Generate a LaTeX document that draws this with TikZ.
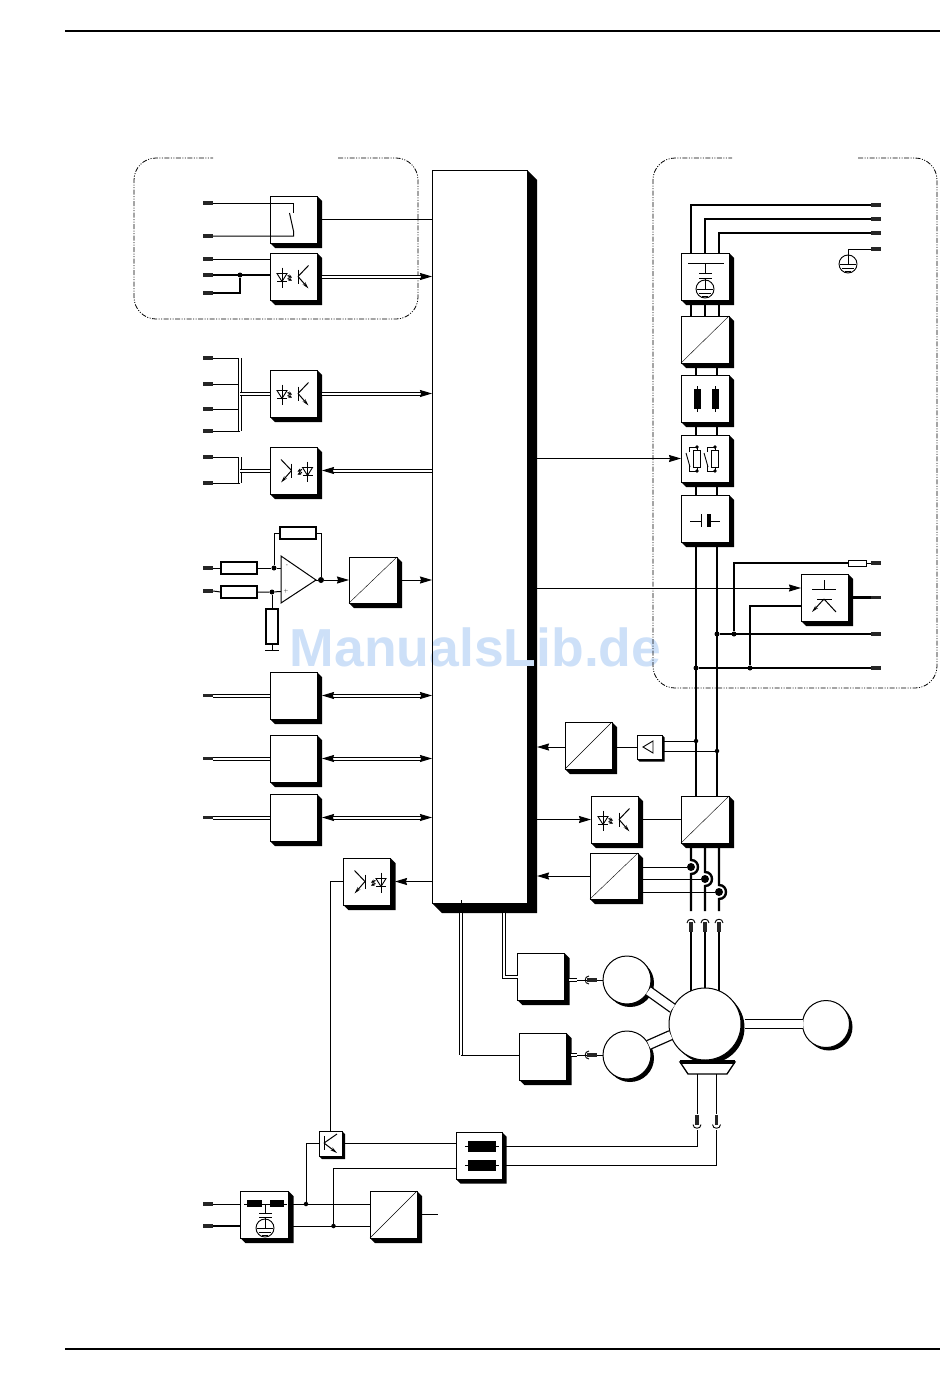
\documentclass[tikz,border=0pt]{standalone}
\usepackage{fontspec}
\newfontfamily\markfont{Liberation Sans}
\usetikzlibrary{arrows.meta}
\definecolor{markblue}{RGB}{205,224,248}
\tikzset{
  blockstyle/.style={draw,fill=white,line width=1pt,inner sep=0pt,outer sep=0pt},
  terminal/.style={fill=black!85,inner sep=0pt,minimum width=10pt,minimum height=3.2pt},
  resist/.style={draw,fill=white,line width=1.1pt,inner sep=0pt,minimum width=36pt,minimum height=12pt},
  dot/.style={circle,fill=black,inner sep=0pt,minimum size=5pt},
  bigdot/.style={circle,fill=black,inner sep=0pt,minimum size=8pt},
  earth/.style={circle,draw,fill=white,line width=.9pt,inner sep=0pt,minimum size=18pt},
  wire/.style={line width=1pt},
  power/.style={line width=2.4pt},
  bus/.style={double,line width=1pt,double distance=2pt},
  shaft/.style={double,line width=1.3pt,double distance=8pt},
  sig/.style={-{Stealth[inset=1pt,length=12pt,width=7pt]}},
  revsig/.style={{Stealth[inset=1pt,length=12pt,width=7pt]}-},
  bothsig/.style={{Stealth[inset=1pt,length=12pt,width=7pt]}-{Stealth[inset=1pt,length=12pt,width=7pt]}},
  frameline/.style={line width=.8pt,rounded corners=22pt,dash pattern=on 5pt off 1.5pt on 1pt off 1.5pt on 1pt off 1.5pt},
  pics/opto/.style={code={
    \draw [line width=.9pt] (-11.5,-9) -- (-11.5,11);
    \draw [line width=.9pt] (-16.5,-3) -- (-6.5,-3) -- (-11.5,5) -- cycle;
    \draw [line width=.9pt] (-16.5,5) -- (-6.5,5);
    \draw [-{Stealth[length=3.5pt,width=3.5pt]},line width=1.1pt] (-6,-1) -- (-1.5,1);
    \draw [-{Stealth[length=3.5pt,width=3.5pt]},line width=1.1pt] (-6,2) -- (-1.5,4);
    \draw [line width=1pt] (4.5,-7) -- (4.5,7);
    \draw [line width=1pt] (4.5,0) -- (15,-11);
    \draw [-{Stealth[length=7pt,width=3.5pt]},line width=1pt] (4.5,0) -- (15,12);
  }},
  pics/earthbars/.style={code={
    \draw [line width=.9pt] (0,-9) -- (0,0);
    \draw [line width=.9pt] (-8,0) -- (8,0);
    \draw [line width=.9pt] (-6,4) -- (6,4);
    \draw [line width=.9pt] (-3,7) -- (3,7);
  }},
  pics/socket/.style={code={
    \draw [line width=.9pt] (-4,3) .. controls (-4,-2) and (4,-2) .. (4,3);
  }},
  pics/relaycell/.style={code={
    \draw [line width=.9pt] (0,-12) -- (-8,-12) -- (-8,-7);
    \draw [line width=.9pt] (-11,-6) -- (-7,8);
    \draw [line width=.9pt] (-8,7) -- (-8,12) -- (0,12) -- (0,-12);
    \draw [line width=.9pt,fill=white] (-3.2,-9) rectangle (3.2,8);
    \fill (0,-12) circle [radius=1.8pt];
    \fill (0,12) circle [radius=1.8pt];
  }},
}
% name, left, top, width, height; the option is the depth of the shadow
\newcommand{\blockbox}[6][5]{%
  \fill (#3+#5,#4) -- (#3+#5+#1,#4+#1) -- (#3+#5+#1,#4+#6+#1) -- (#3+#1,#4+#6+#1) -- (#3,#4+#6) -- cycle;
  \node [blockstyle,anchor=north west,minimum width=#5pt,minimum height=#6pt] (#2) at (#3,#4) {};
}
% name, centre x, centre y, radius; the option is the shift of the shadow
\newcommand{\roundbox}[5][3]{%
  \fill (#3+#1,#4+#1) circle [radius=#5pt];
  \node [blockstyle,circle,minimum size=2*#5pt] (#2) at (#3,#4) {};
}
\begin{document}
\begin{tikzpicture}[x=1pt,y=-1pt]
\useasboundingbox (0,0) rectangle (950,1397);

% Central block
\blockbox[10]{main}{432}{170}{95}{733}
\node [anchor=base,text=markblue,inner sep=0pt] (watermark) at (475.5,666) {\markfont\fontsize{53.5}{53.5}\selectfont\bfseries ManualsLib.de};
\draw [line width=1pt] (main.south west) -- (main.north west);

% Page rules
\draw [line width=1.6pt] (65,31) -- (940,31);
\draw [line width=1.6pt] (65,1349) -- (940,1349);

% Dashed frames
\draw [frameline] (338,158) -- (418,158) -- (418,319) -- (134,319) -- (134,158) -- (213,158);
\draw [frameline] (858,158) -- (937,158) -- (937,688) -- (653,688) -- (653,158) -- (732,158);

% Left terminals
\node [terminal] (tsa) at (208,203) {};
\node [terminal] (tsb) at (208,236) {};
\node [terminal] (toa) at (208,259) {};
\node [terminal] (tob) at (208,275) {};
\node [terminal] (toc) at (208,293) {};
\node [terminal] (tba) at (208,358) {};
\node [terminal] (tbb) at (208,384) {};
\node [terminal] (tbc) at (208,409) {};
\node [terminal] (tbd) at (208,431) {};
\node [terminal] (tca) at (208,457) {};
\node [terminal] (tcb) at (208,483) {};
\node [terminal] (tna) at (208,568) {};
\node [terminal] (tnb) at (208,591) {};
\node [terminal] (tda) at (208,695.5) {};
\node [terminal] (tdb) at (208,758.5) {};
\node [terminal] (tdc) at (208,817.5) {};
\node [terminal] (tea) at (208,1204) {};
\node [terminal] (teb) at (208,1226) {};

% Right terminals
\node [terminal] (ua) at (876,205) {};
\node [terminal] (ub) at (876,219) {};
\node [terminal] (uc) at (876,233) {};
\node [terminal] (ud) at (876,249) {};
\node [terminal] (ue) at (876,563) {};
\node [terminal] (uf) at (876,597.5) {};
\node [terminal] (ug) at (876,634) {};
\node [terminal] (uh) at (876,668) {};

% Switch input
\blockbox{swbox}{270}{196}{47}{47}
\draw [wire] (tsa.east) -- (tsa.east -| swbox.center) -- ++(0,10);
\draw [wire] (tsb.east) -- (tsb.east -| swbox.center) -- ++(0,-5) -- ++(-4,-18);
\draw [wire] (swbox.east) -- (swbox.east -| main.west);

% Opto inputs
\blockbox{optoa}{270}{253}{47}{47}
\pic at (optoa.center) {opto};
\node [dot] (dja) at (240,275) {};
\draw [wire] (toa.east) -- (toa.east -| optoa.west);
\draw [power] (tob.east) -- (tob.east -| optoa.west);
\draw [power] (toc.east) -| (dja);
\draw [bus,sig,shorten <=5pt] (optoa.east) -- (optoa.east -| main.west);

\blockbox{optob}{270}{370}{47}{47}
\pic at (optob.center) {opto};
\coordinate (bbt) at (240,358);
\coordinate (bbb) at (240,431);
\coordinate (bbm) at (240,393.5);
\draw [wire] (tba.east) -- (bbt);
\draw [wire] (tbb.east) -- (tbb.east -| bbt);
\draw [wire] (tbc.east) -- (tbc.east -| bbt);
\draw [wire] (tbd.east) -- (bbb);
\draw [bus] (bbt) -- (bbb);
\draw [bus] (bbm) -- (optob.west);
\draw [bus,sig,shorten <=5pt] (optob.east) -- (optob.east -| main.west);

\blockbox{optoc}{270}{447}{47}{47}
\pic [xscale=-1] at ([xshift=2.5pt]optoc.center) {opto};
\coordinate (bct) at (240,457);
\coordinate (bcb) at (240,483);
\coordinate (bcm) at (240,470.5);
\draw [wire] (tca.east) -- (bct);
\draw [wire] (tcb.east) -- (bcb);
\draw [bus] (bct) -- (bcb);
\draw [bus] (bcm) -- (optoc.west);
\draw [bus,revsig,shorten <=5pt] (optoc.east) -- (optoc.east -| main.west);

% Analog input
\node [resist] (rna) at (239,568) {};
\node [resist] (rnb) at (239,592) {};
\node [resist] (rfb) at (298,533) {};
\node [resist,minimum width=12pt,minimum height=35pt] (rgn) at (272,626.5) {};
\coordinate (optop) at (281,556);
\coordinate (opbot) at (281,603);
\coordinate (opout) at (316,580);
\coordinate (opneg) at (281,568);
\coordinate (oppos) at (281,591.5);
\coordinate (gnda) at (272,650);
\node [dot] (dna) at (274,568) {};
\node [dot] (dnb) at (272,592) {};
\node [dot,minimum size=6pt] (dnc) at (321,580) {};
\draw [line width=1pt] (optop) -- (opbot) -- (opout) -- cycle;
\node [font=\tiny,inner sep=0pt] (opminus) at (287,566) {-};
\node [font=\tiny,inner sep=0pt] (opplus) at (286,591) {+};
\draw [wire] (tna.east) -- (rna.west);
\draw [wire] (tnb.east) -- (rnb.west);
\draw [wire] (rna.east) -- (dna) -- (opneg);
\draw [wire] (rnb.east) -- (dnb) -- (oppos);
\draw [wire] (dna) |- (rfb.west);
\draw [wire] (rfb.east) -| (dnc);
\draw [wire] (opout) -- (dnc);
\draw [wire] (dnb) -- (rgn.north);
\draw [wire] (rgn.south) -- (gnda);
\draw [wire] ([xshift=-7pt]gnda) -- ([xshift=7pt]gnda);
\blockbox{adca}{349}{557}{48}{46}
\draw (adca.south west) -- (adca.north east);
\draw [wire,sig] (dnc) -- (dnc -| adca.west);
\draw [wire,sig] (adca.east) -- (adca.east -| main.west);

% Serial blocks
\blockbox{biba}{270}{672}{47}{47}
\blockbox{bibb}{270}{735}{47}{47}
\blockbox{bibc}{270}{794}{47}{47}
\draw [bus] (tda.east) -- (biba.west);
\draw [bus] (tdb.east) -- (bibb.west);
\draw [bus] (tdc.east) -- (bibc.west);
\draw [bus,bothsig,shorten <=5pt] (biba.east) -- (biba.east -| main.west);
\draw [bus,bothsig,shorten <=5pt] (bibb.east) -- (bibb.east -| main.west);
\draw [bus,bothsig,shorten <=5pt] (bibc.east) -- (bibc.east -| main.west);

% Opto output
\blockbox{optod}{343.5}{858}{47}{47}
\pic [xscale=-1] at ([xshift=2.5pt]optod.center) {opto};
\draw [wire,sig,shorten >=4.5pt] (optod.east -| main.west) -- (optod.east);

% Mains input chain
\blockbox{capin}{681}{253}{48}{47}
\node [earth] (earthb) at (705,289) {};
\pic at (earthb.center) {earthbars};
\draw [wire] (688,263) -- (724,263);
\draw [wire] (705,263) -- (705,273);
\draw [wire] (699,273) -- (712,273);
\draw [wire] (699,278) -- (712,278);
\draw [wire] (705,278) -- (earthb.north);

\blockbox{dcin}{681}{316}{48}{47}
\draw (dcin.south west) -- (dcin.north east);

\blockbox{fuse}{681}{375}{48}{47}
\draw [wire] (697.5,386) -- (697.5,412);
\draw [wire] (715.5,386) -- (715.5,412);
\fill (694,389) rectangle (701,409);
\fill (712,389) rectangle (719,409);

\blockbox{relay}{681}{435}{48}{47}
\pic at (697,459) {relaycell};
\pic at (715,459) {relaycell};

\blockbox{dccap}{681}{495}{48}{47}
\draw [wire] (690,521) -- (701,521);
\draw [wire] (701,514) -- (701,527);
\fill (707,514) rectangle (711,527);
\draw [wire] (711,521) -- (720,521);

\draw [power] (ua.west) -| ([xshift=-14pt]capin.north);
\draw [power] (ub.west) -| (capin.north);
\draw [power] (uc.west) -| ([xshift=14pt]capin.north);
\node [earth] (eartha) at (848,264) {};
\pic at (eartha.center) {earthbars};
\draw [wire] (ud.west) -| (eartha.north);

\draw [power] ([xshift=-14pt]capin.south) -- ([xshift=-14pt]dcin.north);
\draw [power] (capin.south) -- (dcin.north);
\draw [power] ([xshift=14pt]capin.south) -- ([xshift=14pt]dcin.north);
\draw [power] ([xshift=-9pt]dcin.south) -- ([xshift=-9pt]fuse.north);
\draw [power] ([xshift=12pt]dcin.south) -- ([xshift=12pt]fuse.north);
\draw [power] ([xshift=-9pt]fuse.south) -- ([xshift=-9pt]relay.north);
\draw [power] ([xshift=12pt]fuse.south) -- ([xshift=12pt]relay.north);
\draw [power] ([xshift=-9pt]relay.south) -- ([xshift=-9pt]dccap.north);
\draw [power] ([xshift=12pt]relay.south) -- ([xshift=12pt]dccap.north);
\draw [wire,sig] (relay.west -| main.east) -- (relay.west);

% Inverter
\blockbox{convc}{681}{796}{48}{47}
\draw (convc.south west) -- (convc.north east);
\draw [power] ([xshift=-9pt]dccap.south) -- ([xshift=-9pt]convc.north);
\draw [power] ([xshift=12pt]dccap.south) -- ([xshift=12pt]convc.north);

% Brake chopper
\blockbox{igbt}{801}{574}{47}{47}
\draw [wire] (812,589) -- (836,589);
\draw [wire] (824,580) -- (824,589);
\draw [wire] (817,599) -- (832,599);
\draw [wire,-{Stealth[length=7pt,width=3.5pt]}] (824,599) -- (812,612);
\draw [wire] (824,599) -- (836,612);
\node [dot] (dpa) at (717,634) {};
\node [dot] (dpb) at (734,634) {};
\node [dot] (dpc) at (696,668) {};
\node [dot] (dpd) at (750,668) {};
\node [draw,fill=white,line width=.9pt,inner sep=0pt,minimum width=18pt,minimum height=6pt] (rbr) at (857,563) {};
\draw [wire] (rbr.east) -- (ue.west);
\draw [power] (rbr.west) -| (dpb);
\draw [power] (uf.west) -- (uf.west -| igbt.east);
\draw [power] ([yshift=-8.5pt]igbt.west) -| (dpd);
\draw [power] (ug.west) -- (dpa);
\draw [power] (uh.west) -- (dpc);
\draw [wire,sig] ([yshift=9.5pt]igbt.west -| main.east) -- ([yshift=9.5pt]igbt.west);

% Link voltage measurement
\blockbox{adcb}{565}{722}{47}{47}
\draw (adcb.south west) -- (adcb.north east);
\blockbox[2.5]{amp}{637}{735}{25}{24}
\draw [line width=.9pt] (643,747) -- (653,741) -- (653,753) -- cycle;
\node [dot,minimum size=4.5pt] (dma) at (696,741) {};
\node [dot,minimum size=4.5pt] (dmb) at (717,751) {};
\draw [wire] (dma -| amp.east) -- (dma);
\draw [wire] (dmb -| amp.east) -- (dmb);
\draw [wire] (amp.west) -- (amp.west -| adcb.east);
\draw [wire,sig,shorten >=10pt] (amp.west -| adcb.west) -- (amp.west -| main.east);

% Gate drive and current measurement
\blockbox{optoe}{591}{796}{47}{47}
\pic at (optoe.center) {opto};
\draw [wire,sig] (optoe.west -| main.east) -- (optoe.west);
\draw [wire] (optoe.east) -- (convc.west);
\blockbox{adcd}{590}{853}{48}{46}
\draw (adcd.south west) -- (adcd.north east);
\draw [wire,sig,shorten >=10pt] (adcd.west) -- (adcd.west -| main.east);

\node [bigdot] (dca) at (691,867) {};
\node [bigdot] (dcb) at (705,879) {};
\node [bigdot] (dcc) at (719,892) {};
\coordinate (ga) at (691,911);
\coordinate (gb) at (705,911);
\coordinate (gc) at (719,911);
\draw [wire] (dca -| adcd.east) -- (dca);
\draw [wire] (dcb -| adcd.east) -- (dcb);
\draw [wire] (dcc -| adcd.east) -- (dcc);
\draw [power] ([xshift=-14pt]convc.south) -- ([yshift=7pt]dca.center) .. controls ([xshift=9.3pt,yshift=7pt]dca.center) and ([xshift=9.3pt,yshift=-7pt]dca.center) .. ([yshift=-7pt]dca.center) -- (ga);
\draw [power] (convc.south) -- ([yshift=7pt]dcb.center) .. controls ([xshift=9.3pt,yshift=7pt]dcb.center) and ([xshift=9.3pt,yshift=-7pt]dcb.center) .. ([yshift=-7pt]dcb.center) -- (gb);
\draw [power] ([xshift=14pt]convc.south) -- ([yshift=7pt]dcc.center) .. controls ([xshift=9.3pt,yshift=7pt]dcc.center) and ([xshift=9.3pt,yshift=-7pt]dcc.center) .. ([yshift=-7pt]dcc.center) -- (gc);

% Motor
\pic at (691,920) {socket};
\pic at (705,920) {socket};
\pic at (719,920) {socket};
\node [terminal,rotate=90] (pa) at (691,926.5) {};
\node [terminal,rotate=90] (pb) at (705,926.5) {};
\node [terminal,rotate=90] (pc) at (719,926.5) {};
\coordinate (ma) at (691,993);
\coordinate (mb) at (705,990);
\coordinate (mc) at (719,993);
\draw [power] (pa.west) -- (ma);
\draw [power] (pb.west) -- (mb);
\draw [power] (pc.west) -- (mc);
\roundbox[3.5]{motor}{705}{1024}{36}
\roundbox{rca}{627}{980}{24}
\roundbox{rcb}{627}{1055}{24}
\roundbox{rcc}{826}{1024}{23.5}
\draw [shaft] (rca.-27) -- (motor.154);
\draw [shaft] (rcb.25) -- (motor.-162);
\draw [shaft,shorten <=3.5pt] (motor.east) -- (motor.east -| rcc.west);

% Encoders
\blockbox{enca}{517.5}{953}{47}{47}
\blockbox{encb}{519.5}{1033}{47}{47}
\coordinate (sa) at (577,980);
\coordinate (sb) at (577,1055);
\pic [rotate=90] at (586,980) {socket};
\pic [rotate=90] at (586,1055) {socket};
\node [terminal] (pd) at (592,980) {};
\node [terminal] (pe) at (592,1055) {};
\draw [bus,shorten <=4.5pt] (sa -| enca.east) -- (sa);
\draw [bus,shorten <=4.5pt] (sb -| encb.east) -- (sb);
\draw [wire] (sa) -- (pd.west);
\draw [wire] (sb) -- (pe.west);
\draw [wire] (pd.east) -- (rca.west);
\draw [wire] (pe.east) -- (rcb.west);
\coordinate (cba) at (461,1055);
\draw [wire] ([xshift=-18.5pt]main.south) -- ++(0,-3);
\draw [bus,shorten <=10pt] ([xshift=24.5pt]main.south) |- (enca.west);
\draw [bus,shorten <=10pt] ([xshift=-18.5pt]main.south) -- (cba);
\draw [wire] (cba) -- (cba -| encb.west);

% Temperature sensor
\coordinate (tra) at (680,1062);
\coordinate (trb) at (735,1062);
\coordinate (trc) at (727,1074);
\coordinate (trd) at (688,1074);
\draw [line width=1.3pt,fill=white] (tra) -- (trb) -- (trc) -- (trd) -- cycle;
\draw [line width=3.5pt] (tra) -- (trb);
\coordinate (tsu) at (697,1074);
\coordinate (tsv) at (716.5,1074);
\node [terminal,rotate=90] (pf) at (697,1119.5) {};
\node [terminal,rotate=90] (pg) at (716.5,1119.5) {};
\pic [yscale=-1] at (697,1127.5) {socket};
\pic [yscale=-1] at (716.5,1127.5) {socket};
\coordinate (cva) at (697,1130);
\coordinate (cvb) at (716.5,1130);
\draw [wire] (tsu) -- (pf.east);
\draw [wire] (tsv) -- (pg.east);

\blockbox[4.5]{filt}{456}{1132}{46}{47}
\draw [wire] (465,1146.5) -- (499,1146.5);
\draw [wire] (465,1165.5) -- (499,1165.5);
\fill (468,1141) rectangle (495.5,1152);
\fill (468,1160) rectangle (495.5,1171);
\draw [wire] ([yshift=9.5pt]filt.east) -| (cva);
\draw [wire] ([yshift=-9.5pt]filt.east) -| (cvb);

\blockbox[3]{kbox}{319}{1131}{23}{25}
\draw [wire] (324,1136) -- (324,1150);
\draw [wire] (324,1143) -- (337,1134);
\draw [wire,-{Stealth[length=7pt,width=3.5pt]}] (324,1143) -- (337,1153);
\draw [wire] (optod.west) -| (kbox.north);
\draw [wire] (kbox.east) -- (kbox.east -| filt.west);

% Auxiliary supply
\blockbox{emc}{240.5}{1191}{48}{47}
\draw [wire] (244,1204) -- (287,1204);
\fill (247,1200) rectangle (262,1207);
\fill (270,1200) rectangle (284,1207);
\node [earth] (earthc) at (265,1228) {};
\pic at (earthc.center) {earthbars};
\draw [wire] (265,1204) -- (265,1213);
\draw [wire] (259,1213) -- (272,1213);
\draw [wire] (259,1217) -- (272,1217);
\draw [wire] (265,1217) -- (earthc.north);
\blockbox{dcdc}{370}{1191}{47}{47}
\draw (dcdc.south west) -- (dcdc.north east);
\coordinate (dcout) at (438,1214.5);
\node [dot,minimum size=4.5pt] (dka) at (306,1204) {};
\node [dot,minimum size=4.5pt] (dkb) at (333.5,1226) {};
\draw [wire] (tea.east) -- (tea.east -| emc.west);
\draw [power] (teb.east) -- (teb.east -| emc.west);
\draw [wire] (dka -| emc.east) -- (dka -| dcdc.west);
\draw [wire] (dkb -| emc.east) -- (dkb -| dcdc.west);
\draw [wire] (dcdc.east) -- (dcout);
\draw [wire] (kbox.west) -| (dka);
\draw [wire] (dkb) |- ([yshift=-12.5pt]filt.west);
\end{tikzpicture}
\end{document}
